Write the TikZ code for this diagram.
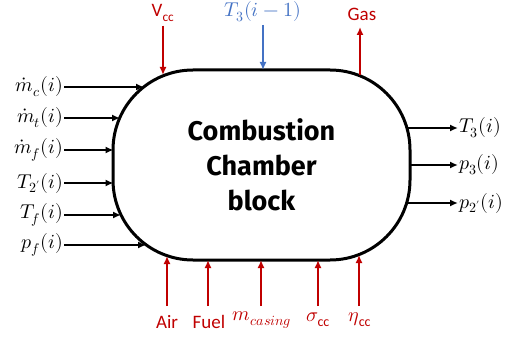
\documentclass[tikz,border=0pt]{standalone}
\usepackage{amsmath}
\usepackage{fontspec}
\usepackage{unicode-math}
\setmathfont{Latin Modern Math}
\setsansfont{Carlito}
\newfontfamily\titlefont{Fira Sans}
\usetikzlibrary{arrows.meta}
\definecolor{cred}{HTML}{C00000}
\definecolor{cblue}{HTML}{4472C4}
\newcommand{\subsf}[1]{\text{\sffamily #1}}
\begin{document}
\begin{tikzpicture}[x=1pt,y=-1pt,
  arr/.style={line width=2pt,-{Latex[length=8pt,width=7pt]}},
  lab/.style={inner sep=1pt,font=\fontsize{20}{24}\selectfont},
  slab/.style={inner sep=1pt,font=\fontsize{19}{22}\selectfont\sffamily}]
\useasboundingbox (0,0) rectangle (513,339);
\node[draw,line width=3pt,rounded corners=80pt,minimum width=297pt,minimum height=190pt,
  align=center,font=\fontsize{27}{35}\selectfont\titlefont\bfseries] (cc) at (261.5,165)
  {Combustion\\Chamber\\block};
% left inputs
\node[lab,anchor=east] (mc) at (64,87) {$\dot m_c(i)$};
\node[lab,anchor=east] (mt) at (64,118) {$\dot m_t(i)$};
\node[lab,anchor=east] (mf) at (64,150) {$\dot m_f(i)$};
\node[lab,anchor=east] (t2) at (64,183) {$T_{2'}(i)$};
\node[lab,anchor=east] (tf) at (64,215) {$T_f(i)$};
\node[lab,anchor=east] (pf) at (64,245) {$p_f(i)$};
\coordinate (emc) at (144,87);
\coordinate (emt) at (120,118);
\coordinate (emf) at (113.5,150);
\coordinate (et2) at (113.5,183);
\coordinate (etf) at (121,215);
\coordinate (epf) at (146,245);
\draw[arr] (mc.east) -- (emc);
\draw[arr] (mt.east) -- (emt);
\draw[arr] (mf.east) -- (emf);
\draw[arr] (t2.east) -- (et2);
\draw[arr] (tf.east) -- (etf);
\draw[arr] (pf.east) -- (epf);
% right outputs
\node[lab,anchor=west] (t3) at (458,128) {$T_3(i)$};
\node[lab,anchor=west] (p3) at (458,165) {$p_3(i)$};
\node[lab,anchor=west] (p2) at (458,203) {$p_{2'}(i)$};
\coordinate (st3) at (407,128);
\coordinate (sp3) at (410,165);
\coordinate (sp2) at (407,203);
\draw[arr] (st3) -- (t3.west);
\draw[arr] (sp3) -- (p3.west);
\draw[arr] (sp2) -- (p2.west);
% top
\node[slab,text=cred] (vcc) at (163,13) {V\textsubscript{cc}};
\node[lab,text=cblue] (t3p) at (263,12) {$T_3(i-1)$};
\node[slab,text=cred] (gas) at (362,14) {Gas};
\coordinate (evcc) at (163,75);
\coordinate (et3p) at (263,70);
\coordinate (sgas) at (360,75);
\draw[arr,cred] (vcc.south) ++(0,3) -- (evcc);
\draw[arr,cblue] (263,25) -- (et3p);
\draw[arr,cred] (sgas) -- (360,27);
% bottom
\node[slab,text=cred] (air) at (167,322) {Air};
\node[slab,text=cred] (fuel) at (209,322) {Fuel};
\node[lab,text=cred] (mcas) at (262,320) {$m_{casing}$};
\node[lab,text=cred] (sig) at (318,320) {$\sigma_{\subsf{cc}}$};
\node[lab,text=cred] (eta) at (360,320) {$\eta_{\subsf{cc}}$};
\coordinate (eair) at (167,256);
\coordinate (efuel) at (208,260);
\coordinate (emcas) at (261,260);
\coordinate (esig) at (318,260);
\coordinate (eeta) at (359,255);
\draw[arr,cred] (167,306) -- (eair);
\draw[arr,cred] (208,306) -- (efuel);
\draw[arr,cred] (261,306) -- (emcas);
\draw[arr,cred] (318,306) -- (esig);
\draw[arr,cred] (359,306) -- (eeta);
\end{tikzpicture}
\end{document}
